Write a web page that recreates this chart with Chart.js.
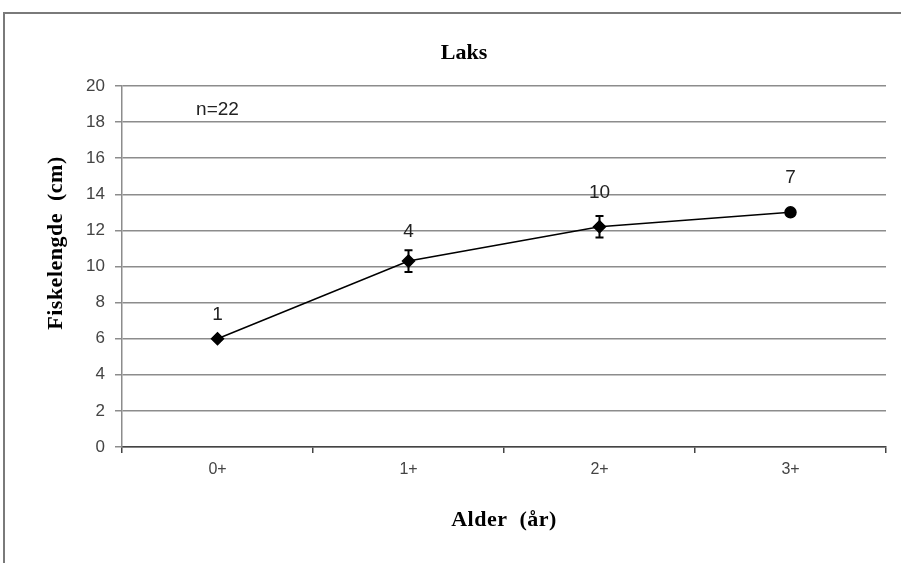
<!DOCTYPE html>
<html>
<head>
<meta charset="utf-8">
<script src="https://cdn.jsdelivr.net/npm/chart.js@4/dist/chart.umd.min.js"></script>
<style>
	html, body { margin: 0; padding: 0; background: #fff; }
	#wrap { position: relative; width: 901px; height: 563px; overflow: hidden; }
	#frame { position: absolute; left: 3px; top: 12px; width: 1000px; height: 1000px;
		border-left: 2px solid #7a7a7a; border-top: 2px solid #7a7a7a; }
	canvas { position: absolute; left: 0; top: 0; }
</style>
</head>
<body>
<div id="wrap">
	<div id="frame"></div>
	<canvas id="line_chart" width="901" height="563"></canvas>
</div>
<script>
// Data.
var ageLabels = ['0+', '1+', '2+', '3+'];
var meanLength = [6.0, 10.3, 12.2, 13.0];
var lengthError = [0, 0.6, 0.6, 0];
var fishCount = ['1', '4', '10', '7'];
var countLabelY = [7.3, 11.9, 14.1, 14.9];
var yTicks = [0, 2, 4, 6, 8, 10, 12, 14, 16, 18, 20];
var sampleNote = 'n=22';
var sampleNoteY = 18.7;

var SERIF = '"Liberation Serif", "Times New Roman", serif';
var SANS = '"Liberation Sans", Arial, sans-serif';

// Error bars, counts above points, titles.
var extrasPlugin = {
	id: 'extras',
	afterDatasetsDraw: function(chart) {
		var ctx = chart.ctx;
		var x = chart.scales.x;
		var y = chart.scales.y;
		ctx.save();
		ctx.strokeStyle = '#000';
		ctx.lineWidth = 2;
		for (var i = 0; i < meanLength.length; i++) {
			if (!lengthError[i]) continue;
			var px = x.getPixelForValue(i);
			var top = y.getPixelForValue(meanLength[i] + lengthError[i]);
			var bot = y.getPixelForValue(meanLength[i] - lengthError[i]);
			ctx.beginPath();
			ctx.moveTo(px, top); ctx.lineTo(px, bot);
			ctx.moveTo(px - 4, top); ctx.lineTo(px + 4, top);
			ctx.moveTo(px - 4, bot); ctx.lineTo(px + 4, bot);
			ctx.stroke();
		}
		ctx.fillStyle = '#222';
		ctx.font = '19px ' + SANS;
		ctx.textAlign = 'center';
		ctx.textBaseline = 'middle';
		for (var i = 0; i < fishCount.length; i++) {
			ctx.fillText(fishCount[i], x.getPixelForValue(i), y.getPixelForValue(countLabelY[i]));
		}
		ctx.fillText(sampleNote, x.getPixelForValue(0), y.getPixelForValue(sampleNoteY));

		ctx.fillStyle = '#000';
		ctx.font = 'bold 22px ' + SERIF;
		ctx.fillText('Laks', 464, 53);
		ctx.letterSpacing = '0.5px';
		ctx.fillText('Alder  (år)', 504, 520);
		ctx.translate(56, 243);
		ctx.rotate(-Math.PI / 2);
		ctx.fillText('Fiskelengde  (cm)', 0, 0);
		ctx.restore();
	}
};

new Chart(document.getElementById('line_chart'), {
	type: 'line',
	data: {
		labels: ageLabels,
		datasets: [{
			data: meanLength,
			borderColor: '#000',
			borderWidth: 1.5,
			backgroundColor: '#000',
			pointBackgroundColor: '#000',
			pointBorderColor: '#000',
			pointStyle: ['rectRot', 'rectRot', 'rectRot', 'circle'],
			pointRadius: [6, 6, 6, 5.5],
			tension: 0,
			fill: false
		}]
	},
	options: {
		responsive: false,
		animation: false,
		layout: { padding: { top: 86, right: 15, bottom: 0, left: 0 } },
		plugins: {
			legend: { display: false },
			title: { display: false },
			tooltip: { enabled: false }
		},
		scales: {
			x: {
				type: 'category',
				offset: true,
				grid: { display: true, drawOnChartArea: false, offset: true, tickLength: 6, color: '#444', lineWidth: 1.5 },
				border: { color: '#444', width: 1.5 },
				ticks: { color: '#444', font: { family: SANS, size: 16 }, padding: 7 },
				afterFit: function(scale) { scale.height = 116; }
			},
			y: {
				min: 0,
				max: 20,
				afterBuildTicks: function(scale) {
					scale.ticks = yTicks.map(function(v) { return { value: v }; });
				},
				grid: { color: '#8c8c8c', lineWidth: 1.5, tickLength: 7 },
				border: { color: '#8c8c8c', width: 1.5 },
				ticks: { color: '#444', font: { family: SANS, size: 17 }, padding: 10 },
				afterFit: function(scale) { scale.width = 122; }
			}
		}
	},
	plugins: [extrasPlugin]
});
</script>
</body>
</html>
